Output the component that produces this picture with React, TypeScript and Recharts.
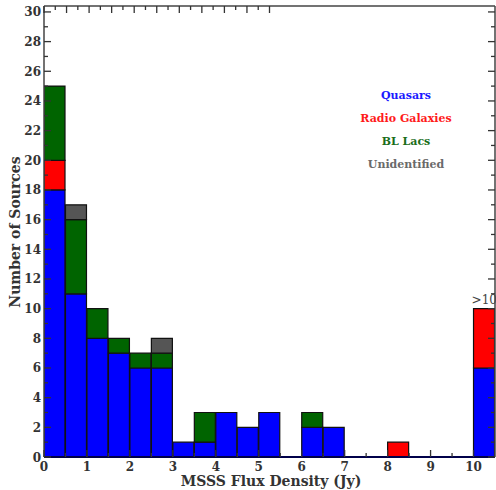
import React from 'react';
import { ComposedChart, Bar, XAxis, YAxis, ReferenceDot, Customized } from 'recharts';

const binStarts = [0, 0.5, 1, 1.5, 2, 2.5, 3, 3.5, 4, 4.5, 5, 5.5, 6, 6.5, 7, 7.5, 8, 8.5, 9, 9.5, 10];
const binWidth = 0.5;
const quasars = [18, 11, 8, 7, 6, 6, 1, 1, 3, 2, 3, 0, 2, 2, 0, 0, 0, 0, 0, 0, 6];
const radioGalaxies = [2, 0, 0, 0, 0, 0, 0, 0, 0, 0, 0, 0, 0, 0, 0, 0, 1, 0, 0, 0, 4];
const blLacs = [5, 5, 2, 1, 1, 1, 0, 2, 0, 0, 0, 0, 1, 0, 0, 0, 0, 0, 0, 0, 0];
const unidentified = [0, 1, 0, 0, 0, 1, 0, 0, 0, 0, 0, 0, 0, 0, 0, 0, 0, 0, 0, 0, 0];

const xTicks = [0, 0.5, 1, 1.5, 2, 2.5, 3, 3.5, 4, 4.5, 5, 5.5, 6, 6.5, 7, 7.5, 8, 8.5, 9, 9.5, 10];
const xMajorTicks = [0, 1, 2, 3, 4, 5, 6, 7, 8, 9, 10];
const yTicks = [0, 1, 2, 3, 4, 5, 6, 7, 8, 9, 10, 11, 12, 13, 14, 15, 16, 17, 18, 19, 20, 21, 22, 23, 24, 25, 26, 27, 28, 29, 30];
const yMajorTicks = [0, 2, 4, 6, 8, 10, 12, 14, 16, 18, 20, 22, 24, 26, 28, 30];

const legendItems = [
  { label: 'Quasars', color: '#1a1aff' },
  { label: 'Radio Galaxies', color: '#ff1a1a' },
  { label: 'BL Lacs', color: '#1a6e1a' },
  { label: 'Unidentified', color: '#6a6a6a' },
];

const data = binStarts.map((b, i) => ({
  x: b + binWidth / 2,
  q: quasars[i],
  rg: radioGalaxies[i],
  bl: blLacs[i],
  u: unidentified[i],
}));

const FONT = '"DejaVu Serif", serif';
const TICK_COLOR = '#333';
const MAJOR = 7;
const MINOR = 4;

const BottomTick = (props: any) => {
  const { x, y, payload } = props;
  const major = xMajorTicks.includes(payload.value);
  return (
    <g>
      <line x1={x} x2={x} y1={y} y2={y - (major ? MAJOR : MINOR)} stroke={TICK_COLOR} strokeWidth={1.3} />
      {major && (
        <text x={x} y={y + 14} textAnchor="middle" fontFamily={FONT} fontSize={12} fontWeight="bold" fill="#333">
          {payload.value}
        </text>
      )}
    </g>
  );
};

const TopTick = (props: any) => {
  const { x, y, payload } = props;
  const major = xMajorTicks.includes(payload.value);
  return <line x1={x} x2={x} y1={y} y2={y + (major ? MAJOR : MINOR)} stroke={TICK_COLOR} strokeWidth={1.3} />;
};

const LeftTick = (props: any) => {
  const { x, y, payload } = props;
  const major = yMajorTicks.includes(payload.value);
  return (
    <g>
      <line x1={x} x2={x + (major ? MAJOR : MINOR)} y1={y} y2={y} stroke={TICK_COLOR} strokeWidth={1.3} />
      {major && (
        <text x={x - 3} y={y + 4.5} textAnchor="end" fontFamily={FONT} fontSize={12} fontWeight="bold" fill="#333">
          {payload.value}
        </text>
      )}
    </g>
  );
};

const RightTick = (props: any) => {
  const { x, y, payload } = props;
  const major = yMajorTicks.includes(payload.value);
  return <line x1={x} x2={x - (major ? MAJOR : MINOR)} y1={y} y2={y} stroke={TICK_COLOR} strokeWidth={1.3} />;
};

const Overlay = () => (
  <g>
    {legendItems.map((it, i) => (
      <text
        key={it.label}
        x={406}
        y={99 + i * 23}
        textAnchor="middle"
        fontFamily={FONT}
        fontSize={11}
        fontWeight="bold"
        fill={it.color}
      >
        {it.label}
      </text>
    ))}
    <text x={271} y={486} textAnchor="middle" fontFamily={FONT} fontSize={14} fontWeight="bold" fill="#333">
      MSSS Flux Density (Jy)
    </text>
    <text
      x={0}
      y={0}
      transform="translate(20,232) rotate(-90)"
      textAnchor="middle"
      fontFamily={FONT}
      fontSize={14}
      fontWeight="bold"
      fill="#333"
    >
      Number of Sources
    </text>
  </g>
);

export default function App() {
  return (
    <div style={{ position: 'absolute', left: 0, top: 0, width: 496, height: 490, background: '#fff' }}>
      <ComposedChart
        width={496}
        height={490}
        data={data}
        margin={{ top: 5, right: 0, bottom: 32, left: 0 }}
        barCategoryGap={0}
        barGap={0}
      >
        <XAxis
          xAxisId="bottom"
          dataKey="x"
          type="number"
          domain={[0, 10.5]}
          allowDataOverflow
          ticks={xTicks}
          interval={0}
          height={1}
          tickSize={0}
          tickMargin={0}
          tickLine={false}
          tick={<BottomTick />}
          axisLine={{ stroke: '#00004a', strokeWidth: 2 }}
        />
        <XAxis
          xAxisId="top"
          orientation="top"
          type="number"
          domain={[0, 10.5]}
          allowDataOverflow
          ticks={xTicks}
          interval={0}
          height={1}
          tickSize={0}
          tickMargin={0}
          tickLine={false}
          tick={<TopTick />}
          axisLine={{ stroke: '#444', strokeWidth: 1.5 }}
        />
        <YAxis
          yAxisId="left"
          type="number"
          domain={[0, 30.4]}
          allowDataOverflow
          ticks={yTicks}
          interval={0}
          width={44}
          tickSize={0}
          tickMargin={0}
          tickLine={false}
          tick={<LeftTick />}
          axisLine={{ stroke: '#444', strokeWidth: 1.5 }}
        />
        <YAxis
          yAxisId="right"
          orientation="right"
          type="number"
          domain={[0, 30.4]}
          allowDataOverflow
          ticks={yTicks}
          interval={0}
          width={1}
          tickSize={0}
          tickMargin={0}
          tickLine={false}
          tick={<RightTick />}
          axisLine={{ stroke: '#444', strokeWidth: 1.5 }}
        />
        <Bar xAxisId="bottom" yAxisId="left" dataKey="q" stackId="s" fill="#0000ff" stroke="#111" strokeWidth={1.2} isAnimationActive={false} />
        <Bar xAxisId="bottom" yAxisId="left" dataKey="rg" stackId="s" fill="#ff0000" stroke="#111" strokeWidth={1.2} isAnimationActive={false} />
        <Bar xAxisId="bottom" yAxisId="left" dataKey="bl" stackId="s" fill="#006400" stroke="#111" strokeWidth={1.2} isAnimationActive={false} />
        <Bar xAxisId="bottom" yAxisId="left" dataKey="u" stackId="s" fill="#555555" stroke="#111" strokeWidth={1.2} isAnimationActive={false} />
        <ReferenceDot
          xAxisId="bottom"
          yAxisId="left"
          x={10.25}
          y={quasars[20] + radioGalaxies[20]}
          r={0}
          fill="none"
          stroke="none"
          label={{ value: '>10', position: 'top', offset: 5, fontFamily: FONT, fontSize: 12, fill: '#444' }}
        />
        <Customized component={Overlay} />
      </ComposedChart>
    </div>
  );
}
